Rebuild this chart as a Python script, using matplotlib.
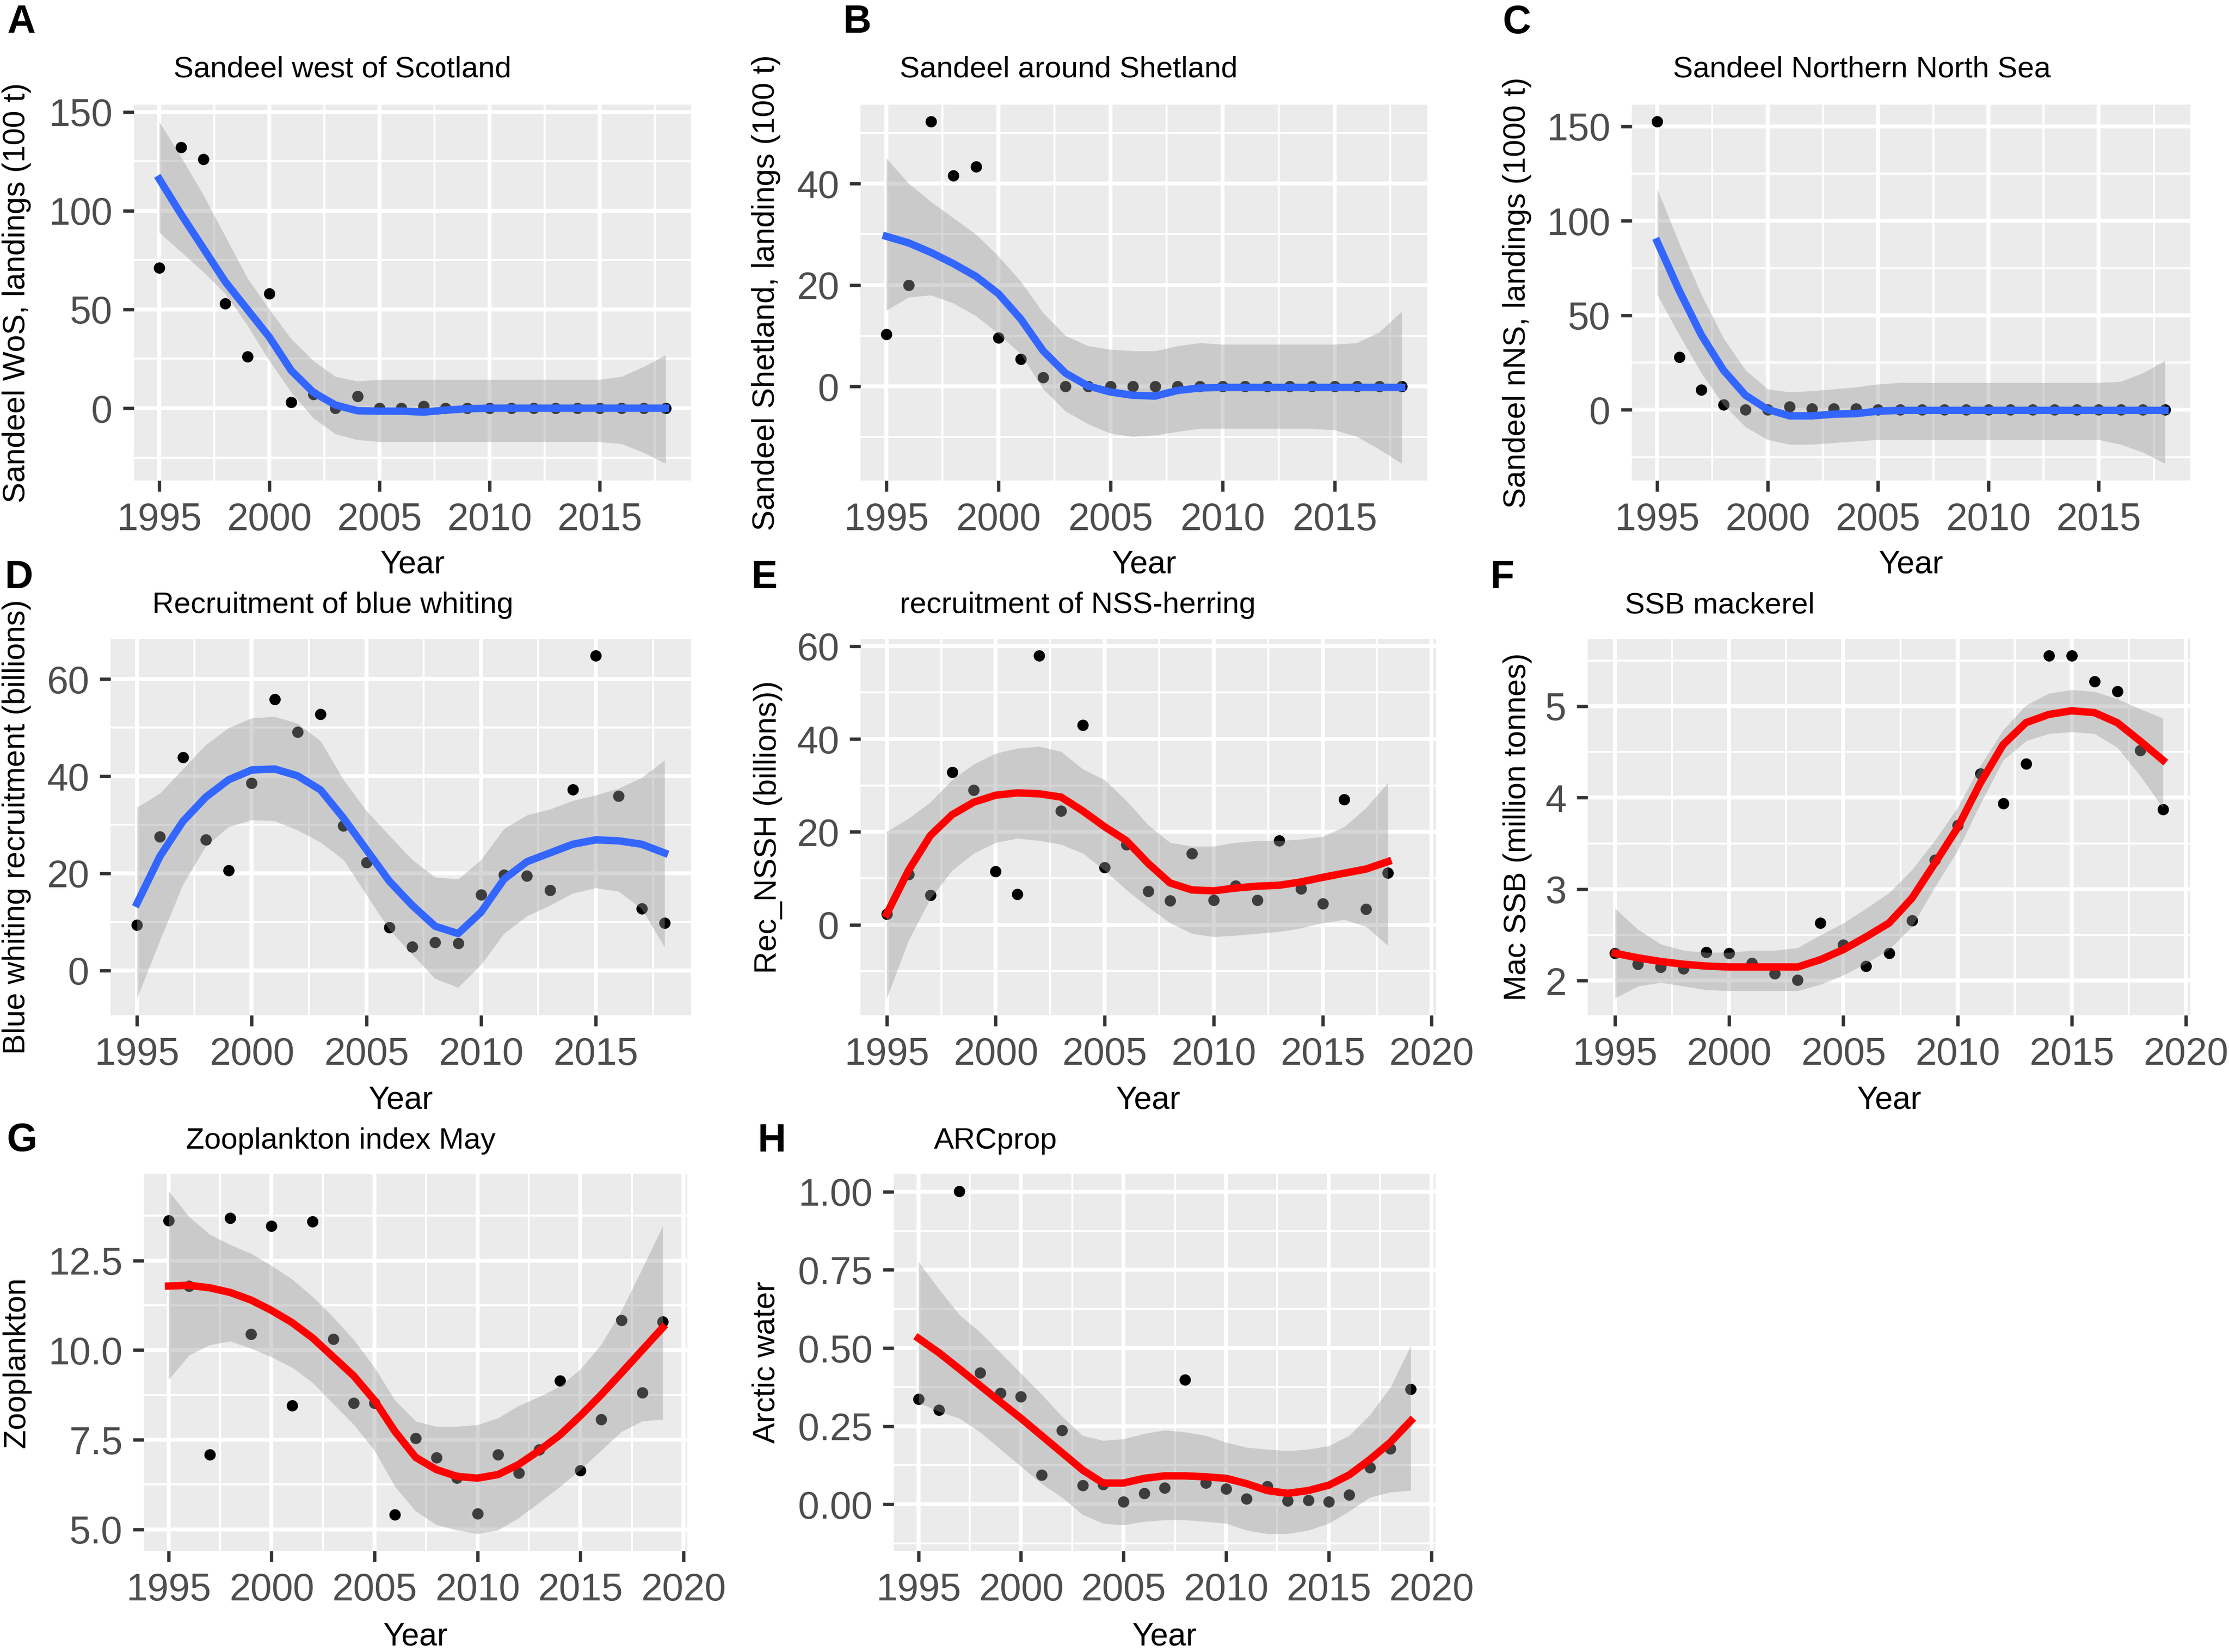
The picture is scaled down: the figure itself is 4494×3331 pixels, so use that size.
import numpy as np
import matplotlib
matplotlib.use("Agg")
import matplotlib.pyplot as plt
from matplotlib.ticker import MultipleLocator, FormatStrFormatter

plt.rcParams["font.family"] = ["Liberation Sans", "DejaVu Sans"]

W, H = 4494, 3331
BLUE = "#3366FF"
RED = "#FF0000"

# ---- data (points, smoother fit, confidence band) ----
years_a = list(range(1995, 2019))
pts_a = [71, 132, 126, 53, 26, 58, 3, 7, 0, 6, 0, 0, 1, 0, 0, 0, 0, 0, 0, 0, 0, 0, 0, 0]
fit_a = [116, 98, 81, 64, 50, 36, 19, 8, 1.6, -1.3, -1.5, -1.5, -2, -1, -0.3, 0, 0, 0, 0, 0, 0, 0, 0, 0]
hi_a = [145, 127, 108, 87, 66, 50, 35, 24, 16, 13.7, 14.5, 14.5, 14.5, 14.5, 14.5, 14.5, 14.5, 14.5, 14.5, 14.5, 14.5, 16, 21, 27]
lo_a = [89, 79, 69, 58, 42, 24, 8, -5, -13, -16, -17, -17, -17, -17, -17, -17, -17, -17, -17, -17, -17, -18, -22.5, -28]

years_b = list(range(1995, 2019))
pts_b = [10.3, 20, 52.2, 41.6, 43.3, 9.6, 5.4, 1.8, 0, 0, 0, 0, 0, 0, 0, 0, 0, 0, 0, 0, 0, 0, 0, 0]
fit_b = [29.6, 28.3, 26.4, 24.2, 21.7, 18.3, 13.3, 7, 2.6, 0.1, -1.1, -1.75, -1.9, -0.8, -0.3,
         -0.2, -0.2, -0.2, -0.2, -0.2, -0.2, -0.2, -0.2, -0.2]
hi_b = [45, 40, 36.4, 33.2, 30, 25.7, 20.7, 14.5, 10, 8, 7.3, 7, 7, 8, 8.6, 8.3, 8.3, 8.3, 8.3, 8.3, 8.3, 8.6, 10.7, 14.8]
lo_b = [15, 17.6, 18, 16.4, 13.9, 10.4, 6.4, -0.5, -4.9, -7.4, -9.25, -9.9, -9.6, -8.9, -8.3,
        -8.3, -8.3, -8.3, -8.3, -8.3, -8.6, -9.9, -12.4, -15.2]

years_c = list(range(1995, 2019))
pts_c = [152.5, 27.9, 10.7, 2.7, 0, 0, 1.8, 0.5, 0.5, 0.5, 0, 0, 0, 0, 0, 0, 0, 0, 0, 0, 0, 0, 0, 0]
fit_c = [89, 63, 39.6, 21, 7.7, 0.2, -3.2, -3.2, -2.3, -2, -0.7,
         -0.3, -0.3, -0.3, -0.3, -0.3, -0.3, -0.3, -0.3, -0.3, -0.3, -0.3, -0.3, -0.3]
hi_c = [117, 88, 61, 38, 21, 11, 9.4, 10, 11, 12, 13.6,
        14.4, 14.4, 14.4, 14.4, 14.4, 14.4, 14.4, 14.4, 14.4, 14.4, 15, 19.5, 26]
lo_c = [61, 39.6, 19.5, 2.7, -9, -15.8, -18.3, -18.3, -17.4, -16.6, -15.8,
        -15.8, -15.8, -15.8, -15.8, -15.8, -15.8, -15.8, -15.8, -15.8, -15.8, -18.3, -22.5, -28.4]

years_d = list(range(1995, 2019))
pts_d = [9.4, 27.6, 43.9, 26.9, 20.6, 38.6, 55.9, 49.1, 52.8, 29.8, 22.2, 8.9,
         4.9, 5.8, 5.6, 15.6, 19.7, 19.5, 16.5, 37.3, 64.8, 35.9, 12.7, 9.8]
fit_d = [13.8, 23.5, 30.7, 35.7, 39.3, 41.3, 41.5, 40.1, 37.2, 31.4, 24.9, 18.4,
         13.4, 9.1, 7.6, 12, 18.8, 22.4, 24.2, 26, 26.9, 26.7, 26, 24.2]
hi_d = [33.6, 36.5, 41.5, 46.5, 50, 52, 52.3, 50.9, 47.3, 39.3, 32.9, 27.8,
        22.8, 19.2, 18.8, 22.8, 29.2, 32, 33.2, 35, 36.1, 37.5, 39.7, 43.3]
lo_d = [-5.7, 6.2, 17.7, 25.6, 29.6, 31, 30.8, 28.9, 26.4, 22.8, 15.6, 8.4,
        3.3, -1.7, -3.5, 1.2, 7.6, 11.2, 13.4, 15.9, 17, 16.3, 12.7, 4.8]

years_e = list(range(1995, 2019))
pts_e = [2.3, 10.9, 6.4, 32.9, 29, 11.5, 6.6, 57.9, 24.5, 43, 12.3, 17.3,
         7.2, 5.2, 15.3, 5.3, 8.4, 5.3, 18.1, 7.7, 4.5, 27, 3.4, 11.2]
fit_e = [2.3, 11.7, 19.2, 23.7, 26.4, 27.9, 28.4, 28.2, 27.5, 24.5, 21.1, 18.1,
         13.2, 9, 7.5, 7.3, 7.9, 8.3, 8.5, 9.2, 10.2, 11.1, 12, 13.6]
hi_e = [20.1, 22.9, 26.4, 31.2, 34.6, 36.9, 38, 38.4, 37.3, 33.5, 31.2, 26.7,
        21.5, 17.7, 16.9, 16.9, 17.7, 18.1, 18.1, 18.4, 19, 21.1, 25.2, 30.6]
lo_e = [-15.8, -3.4, 5.6, 11.7, 15.4, 17.7, 18.6, 18.1, 17.3, 15.4, 11.7, 7.5,
        3.8, 0.4, -1.9, -2.6, -2.3, -1.9, -1.5, -0.75, 0.4, 1.1, -0.4, -4.5]

years_f = list(range(1995, 2020))
pts_f = [2.30, 2.18, 2.15, 2.13, 2.31, 2.30, 2.19, 2.08, 2.01, 2.63, 2.39, 2.16, 2.30,
         2.66, 3.32, 3.70, 4.26, 3.94, 4.37, 5.55, 5.55, 5.27, 5.16, 4.52, 3.87]
fit_f = [2.30, 2.25, 2.21, 2.18, 2.16, 2.15, 2.15, 2.15, 2.15, 2.23, 2.34, 2.48, 2.63,
         2.90, 3.28, 3.67, 4.16, 4.58, 4.82, 4.91, 4.95, 4.93, 4.82, 4.62, 4.41]
hi_f = [2.79, 2.56, 2.40, 2.33, 2.31, 2.31, 2.33, 2.33, 2.36, 2.50, 2.63, 2.79, 2.96,
        3.21, 3.53, 3.89, 4.35, 4.74, 5.01, 5.14, 5.18, 5.16, 5.08, 4.97, 4.87]
lo_f = [1.81, 1.94, 1.98, 1.94, 1.90, 1.89, 1.89, 1.89, 1.89, 1.96, 2.06, 2.19, 2.34,
        2.59, 3.02, 3.42, 3.93, 4.41, 4.62, 4.70, 4.72, 4.70, 4.55, 4.24, 3.89]

years_g = list(range(1995, 2020))
pts_g = [13.62, 11.79, 7.08, 13.69, 10.45, 13.47, 8.45, 13.59, 10.31, 8.53, 8.52, 5.41, 7.54,
         7.01, 6.43, 5.44, 7.08, 6.57, 7.23, 9.15, 6.65, 8.07, 10.84, 8.81, 10.79]
fit_g = [11.79, 11.81, 11.74, 11.61, 11.40, 11.11, 10.77, 10.34, 9.81, 9.28, 8.60, 7.73, 7.01,
         6.67, 6.48, 6.43, 6.53, 6.81, 7.20, 7.63, 8.17, 8.75, 9.37, 10.0, 10.63]
hi_g = [14.44, 13.72, 13.23, 12.94, 12.70, 12.36, 11.98, 11.49, 10.92, 10.29, 9.52, 8.60, 8.02,
        7.87, 7.87, 7.92, 8.11, 8.45, 8.70, 8.99, 9.47, 10.15, 11.11, 12.27, 13.47]
lo_g = [9.18, 9.86, 10.15, 10.25, 10.05, 9.81, 9.52, 9.09, 8.50, 7.92, 7.20, 6.19, 5.51,
        5.13, 4.98, 4.88, 4.98, 5.32, 5.75, 6.19, 6.67, 7.20, 7.73, 8.02, 8.07]

years_h = list(range(1995, 2020))
pts_h = [0.336, 0.301, 1.002, 0.421, 0.355, 0.344, 0.094, 0.237, 0.061, 0.064, 0.009, 0.036, 0.053,
         0.399, 0.068, 0.050, 0.017, 0.057, 0.011, 0.013, 0.009, 0.030, 0.118, 0.178, 0.369]
fit_h = [0.531, 0.485, 0.433, 0.380, 0.327, 0.275, 0.220, 0.165, 0.110, 0.068, 0.068, 0.083, 0.091,
         0.091, 0.088, 0.083, 0.066, 0.044, 0.035, 0.044, 0.061, 0.094, 0.143, 0.198, 0.267]
hi_h = [0.776, 0.688, 0.606, 0.551, 0.485, 0.419, 0.352, 0.281, 0.220, 0.204, 0.209, 0.226, 0.237,
        0.231, 0.220, 0.198, 0.182, 0.176, 0.171, 0.176, 0.187, 0.220, 0.286, 0.374, 0.507]
lo_h = [0.325, 0.297, 0.275, 0.231, 0.176, 0.121, 0.066, 0.022, -0.033, -0.061, -0.066, -0.055, -0.050,
        -0.050, -0.055, -0.061, -0.083, -0.094, -0.094, -0.083, -0.061, -0.022, 0.022, 0.039, 0.044]

# panel layout in pixels: (left, top, right, bottom)
panels = [
    dict(letter="A", title="Sandeel west of Scotland", ylabel="Sandeel WoS, landings (100 t)",
         x=years_a, y=pts_a, fit=fit_a, lo=lo_a, hi=hi_a, col=BLUE, xend=2018, ystep=50, fmt="%d",
         box=(270, 211, 1393, 969), lpos=(14, 46), tpos=(350, 140), ylx=34, xly=1138),
    dict(letter="B", title="Sandeel around Shetland", ylabel="Sandeel Shetland, landings (100 t)",
         x=years_b, y=pts_b, fit=fit_b, lo=lo_b, hi=hi_b, col=BLUE, xend=2018, ystep=20, fmt="%d",
         box=(1735, 211, 2878, 969), lpos=(1700, 46), tpos=(1814, 140), ylx=1545, xly=1138),
    dict(letter="C", title="Sandeel Northern North Sea", ylabel="Sandeel nNS, landings (1000 t)",
         x=years_c, y=pts_c, fit=fit_c, lo=lo_c, hi=hi_c, col=BLUE, xend=2018, ystep=50, fmt="%d",
         box=(3290, 211, 4416, 969), lpos=(3030, 46), tpos=(3373, 140), ylx=3058, xly=1138),
    dict(letter="D", title="Recruitment of blue whiting", ylabel="Blue whiting recruitment (billions)",
         x=years_d, y=pts_d, fit=fit_d, lo=lo_d, hi=hi_d, col=BLUE, xend=2018, ystep=20, fmt="%d",
         box=(223, 1288, 1393, 2047), lpos=(10, 1166), tpos=(307, 1221), ylx=34, xly=2218),
    dict(letter="E", title="recruitment of NSS-herring", ylabel="Rec_NSSH (billions))",
         x=years_e, y=pts_e, fit=fit_e, lo=lo_e, hi=hi_e, col=RED, xend=2019, ystep=20, fmt="%d",
         box=(1735, 1288, 2895, 2047), lpos=(1515, 1166), tpos=(1814, 1221), ylx=1548, xly=2218),
    dict(letter="F", title="SSB mackerel", ylabel="Mac SSB (million tonnes)",
         x=years_f, y=pts_f, fit=fit_f, lo=lo_f, hi=hi_f, col=RED, xend=2019, ystep=1, fmt="%d",
         box=(3201, 1288, 4416, 2047), lpos=(3005, 1166), tpos=(3276, 1221), ylx=3060, xly=2218),
    dict(letter="G", title="Zooplankton index May", ylabel="Zooplankton",
         x=years_g, y=pts_g, fit=fit_g, lo=lo_g, hi=hi_g, col=RED, xend=2019, ystep=2.5, fmt="%.1f",
         box=(290, 2367, 1386, 3127), lpos=(14, 2301), tpos=(375, 2301), ylx=34, xly=3300),
    dict(letter="H", title="ARCprop", ylabel="Arctic water",
         x=years_h, y=pts_h, fit=fit_h, lo=lo_h, hi=hi_h, col=RED, xend=2019, ystep=0.25, fmt="%.2f",
         box=(1802, 2367, 2894, 3127), lpos=(1528, 2301), tpos=(1883, 2301), ylx=1545, xly=3300),
]

fig = plt.figure(figsize=(W / 300, H / 300), dpi=300)

for p in panels:
    l, t, r, b = p["box"]
    ax = fig.add_axes([l / W, 1 - b / H, (r - l) / W, (b - t) / H])
    ax.set_facecolor("#EBEBEB")
    for s in ax.spines.values():
        s.set_visible(False)

    x = np.array(p["x"])
    y = np.array(p["y"])
    lo = np.array(p["lo"])
    hi = np.array(p["hi"])

    ax.scatter(x, y, s=30, color="black", zorder=2, linewidths=0)
    ax.fill_between(x, lo, hi, color="#999999", alpha=0.4, linewidth=0, zorder=3)
    ax.plot(x, p["fit"], color=p["col"], lw=3.6, zorder=4, solid_joinstyle="round")

    # ggplot-like 5% expansion
    x0, x1 = 1995, p["xend"]
    dx = 0.05 * (x1 - x0)
    ax.set_xlim(x0 - dx, x1 + dx)
    ymin = min(lo.min(), y.min())
    ymax = max(hi.max(), y.max())
    dy = 0.05 * (ymax - ymin)
    ax.set_ylim(ymin - dy, ymax + dy)

    ax.xaxis.set_major_locator(MultipleLocator(5))
    ax.xaxis.set_minor_locator(MultipleLocator(2.5))
    ax.yaxis.set_major_locator(MultipleLocator(p["ystep"]))
    ax.yaxis.set_minor_locator(MultipleLocator(p["ystep"] / 2))
    ax.yaxis.set_major_formatter(FormatStrFormatter(p["fmt"]))

    ax.set_axisbelow(True)
    ax.grid(which="major", color="white", lw=1.9)
    ax.grid(which="minor", color="white", lw=0.95)
    ax.tick_params(which="major", length=5.3, width=1.6, color="#333333",
                   labelsize=18.5, labelcolor="#4D4D4D", pad=5)
    ax.tick_params(which="minor", length=0)

    cx = (l + r) / 2
    fig.text(cx / W, 1 - p["xly"] / H, "Year", ha="center", va="center", fontsize=15.5)
    fig.text(p["ylx"] / W, 1 - (t + b) / 2 / H, p["ylabel"], ha="center", va="center",
             rotation=90, fontsize=15)
    fig.text(p["tpos"][0] / W, 1 - p["tpos"][1] / H, p["title"], ha="left", va="center",
             fontsize=14.5)
    fig.text(p["lpos"][0] / W, 1 - p["lpos"][1] / H, p["letter"], ha="left", va="center",
             fontsize=19, fontweight="bold")

fig.savefig("out.png", dpi=300)
